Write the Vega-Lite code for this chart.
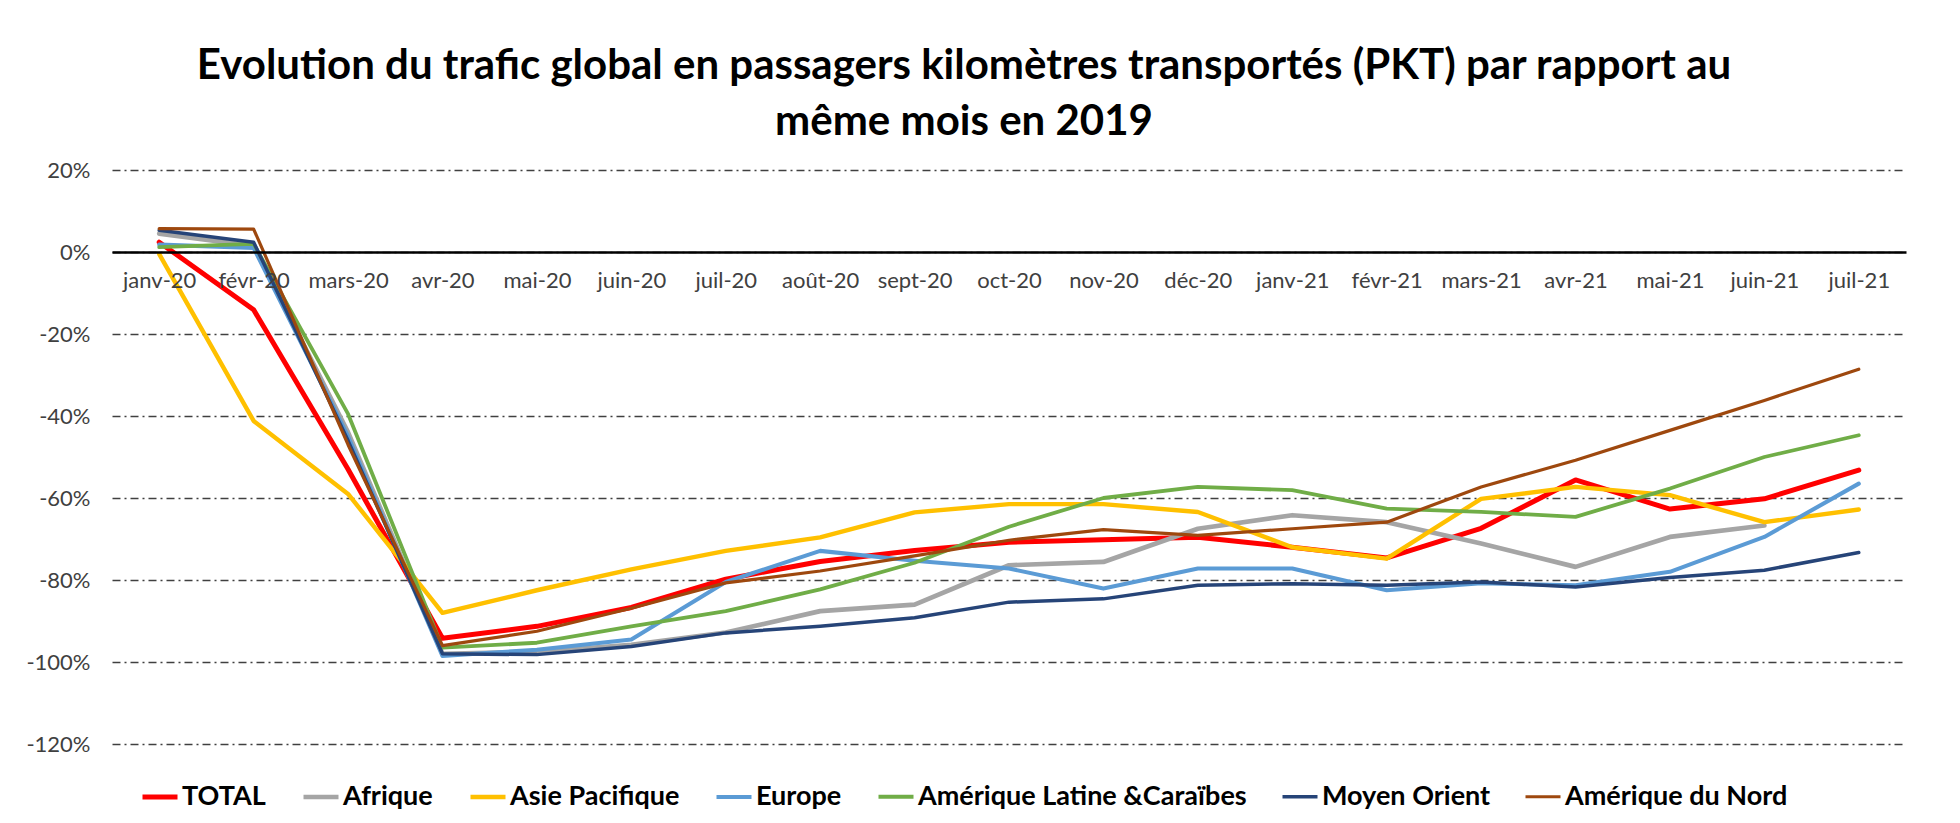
{
  "$schema": "https://vega.github.io/schema/vega-lite/v6.json",
  "width": 1794,
  "height": 574,
  "autosize": {"type": "none"},
  "padding": {"left": 112, "top": 170, "right": 54, "bottom": 79},
  "background": "white",
  "title": {
    "text": ["Evolution du trafic global en passagers kilomètres transportés (PKT) par rapport au", "même mois en 2019"],
    "font": "Lato",
    "fontSize": 42,
    "fontWeight": "bold",
    "color": "#000000",
    "anchor": "middle",
    "dx": -45,
    "lineHeight": 56,
    "offset": 15
  },
  "data": {
    "values": [
      {"m": "janv-20", "s": "TOTAL", "v": 2.4}, {"m": "févr-20", "s": "TOTAL", "v": -14.1}, {"m": "mars-20", "s": "TOTAL", "v": -53}, {"m": "avr-20", "s": "TOTAL", "v": -94.2}, {"m": "mai-20", "s": "TOTAL", "v": -91.3}, {"m": "juin-20", "s": "TOTAL", "v": -86.7}, {"m": "juil-20", "s": "TOTAL", "v": -79.8}, {"m": "août-20", "s": "TOTAL", "v": -75.5}, {"m": "sept-20", "s": "TOTAL", "v": -72.8}, {"m": "oct-20", "s": "TOTAL", "v": -70.8}, {"m": "nov-20", "s": "TOTAL", "v": -70.2}, {"m": "déc-20", "s": "TOTAL", "v": -69.6}, {"m": "janv-21", "s": "TOTAL", "v": -72}, {"m": "févr-21", "s": "TOTAL", "v": -74.6}, {"m": "mars-21", "s": "TOTAL", "v": -67.4}, {"m": "avr-21", "s": "TOTAL", "v": -55.6}, {"m": "mai-21", "s": "TOTAL", "v": -62.7}, {"m": "juin-21", "s": "TOTAL", "v": -60.2}, {"m": "juil-21", "s": "TOTAL", "v": -53.2},

      {"m": "janv-20", "s": "Afrique", "v": 4.5}, {"m": "févr-20", "s": "Afrique", "v": 1.5}, {"m": "mars-20", "s": "Afrique", "v": -44}, {"m": "avr-20", "s": "Afrique", "v": -98}, {"m": "mai-20", "s": "Afrique", "v": -97.5}, {"m": "juin-20", "s": "Afrique", "v": -95.8}, {"m": "juil-20", "s": "Afrique", "v": -92.8}, {"m": "août-20", "s": "Afrique", "v": -87.6}, {"m": "sept-20", "s": "Afrique", "v": -86}, {"m": "oct-20", "s": "Afrique", "v": -76.4}, {"m": "nov-20", "s": "Afrique", "v": -75.6}, {"m": "déc-20", "s": "Afrique", "v": -67.5}, {"m": "janv-21", "s": "Afrique", "v": -64.2}, {"m": "févr-21", "s": "Afrique", "v": -65.9}, {"m": "mars-21", "s": "Afrique", "v": -71.1}, {"m": "avr-21", "s": "Afrique", "v": -76.8}, {"m": "mai-21", "s": "Afrique", "v": -69.5}, {"m": "juin-21", "s": "Afrique", "v": -66.7},

      {"m": "janv-20", "s": "Asie Pacifique", "v": -0.5}, {"m": "févr-20", "s": "Asie Pacifique", "v": -41.2}, {"m": "mars-20", "s": "Asie Pacifique", "v": -59}, {"m": "avr-20", "s": "Asie Pacifique", "v": -88}, {"m": "mai-20", "s": "Asie Pacifique", "v": -82.5}, {"m": "juin-20", "s": "Asie Pacifique", "v": -77.4}, {"m": "juil-20", "s": "Asie Pacifique", "v": -72.9}, {"m": "août-20", "s": "Asie Pacifique", "v": -69.6}, {"m": "sept-20", "s": "Asie Pacifique", "v": -63.5}, {"m": "oct-20", "s": "Asie Pacifique", "v": -61.5}, {"m": "nov-20", "s": "Asie Pacifique", "v": -61.5}, {"m": "déc-20", "s": "Asie Pacifique", "v": -63.4}, {"m": "janv-21", "s": "Asie Pacifique", "v": -72}, {"m": "févr-21", "s": "Asie Pacifique", "v": -74.8}, {"m": "mars-21", "s": "Asie Pacifique", "v": -60.2}, {"m": "avr-21", "s": "Asie Pacifique", "v": -57.3}, {"m": "mai-21", "s": "Asie Pacifique", "v": -59.3}, {"m": "juin-21", "s": "Asie Pacifique", "v": -65.9}, {"m": "juil-21", "s": "Asie Pacifique", "v": -62.8},

      {"m": "janv-20", "s": "Europe", "v": 1.8}, {"m": "févr-20", "s": "Europe", "v": 1.0}, {"m": "mars-20", "s": "Europe", "v": -45}, {"m": "avr-20", "s": "Europe", "v": -98.5}, {"m": "mai-20", "s": "Europe", "v": -97}, {"m": "juin-20", "s": "Europe", "v": -94.5}, {"m": "juil-20", "s": "Europe", "v": -80.5}, {"m": "août-20", "s": "Europe", "v": -72.9}, {"m": "sept-20", "s": "Europe", "v": -75.3}, {"m": "oct-20", "s": "Europe", "v": -77.2}, {"m": "nov-20", "s": "Europe", "v": -82.1}, {"m": "déc-20", "s": "Europe", "v": -77.2}, {"m": "janv-21", "s": "Europe", "v": -77.2}, {"m": "févr-21", "s": "Europe", "v": -82.5}, {"m": "mars-21", "s": "Europe", "v": -80.8}, {"m": "avr-21", "s": "Europe", "v": -81.3}, {"m": "mai-21", "s": "Europe", "v": -78}, {"m": "juin-21", "s": "Europe", "v": -69.5}, {"m": "juil-21", "s": "Europe", "v": -56.5},

      {"m": "janv-20", "s": "Amérique Latine &Caraïbes", "v": 1.2}, {"m": "févr-20", "s": "Amérique Latine &Caraïbes", "v": 2.0}, {"m": "mars-20", "s": "Amérique Latine &Caraïbes", "v": -39.5}, {"m": "avr-20", "s": "Amérique Latine &Caraïbes", "v": -96.5}, {"m": "mai-20", "s": "Amérique Latine &Caraïbes", "v": -95.3}, {"m": "juin-20", "s": "Amérique Latine &Caraïbes", "v": -91.3}, {"m": "juil-20", "s": "Amérique Latine &Caraïbes", "v": -87.6}, {"m": "août-20", "s": "Amérique Latine &Caraïbes", "v": -82.3}, {"m": "sept-20", "s": "Amérique Latine &Caraïbes", "v": -75.8}, {"m": "oct-20", "s": "Amérique Latine &Caraïbes", "v": -67}, {"m": "nov-20", "s": "Amérique Latine &Caraïbes", "v": -60}, {"m": "déc-20", "s": "Amérique Latine &Caraïbes", "v": -57.3}, {"m": "janv-21", "s": "Amérique Latine &Caraïbes", "v": -58.1}, {"m": "févr-21", "s": "Amérique Latine &Caraïbes", "v": -62.6}, {"m": "mars-21", "s": "Amérique Latine &Caraïbes", "v": -63.4}, {"m": "avr-21", "s": "Amérique Latine &Caraïbes", "v": -64.6}, {"m": "mai-21", "s": "Amérique Latine &Caraïbes", "v": -57.7}, {"m": "juin-21", "s": "Amérique Latine &Caraïbes", "v": -50}, {"m": "juil-21", "s": "Amérique Latine &Caraïbes", "v": -44.7},

      {"m": "janv-20", "s": "Moyen Orient", "v": 5.3}, {"m": "févr-20", "s": "Moyen Orient", "v": 2.4}, {"m": "mars-20", "s": "Moyen Orient", "v": -46}, {"m": "avr-20", "s": "Moyen Orient", "v": -98}, {"m": "mai-20", "s": "Moyen Orient", "v": -98.2}, {"m": "juin-20", "s": "Moyen Orient", "v": -96.2}, {"m": "juil-20", "s": "Moyen Orient", "v": -92.9}, {"m": "août-20", "s": "Moyen Orient", "v": -91.3}, {"m": "sept-20", "s": "Moyen Orient", "v": -89.2}, {"m": "oct-20", "s": "Moyen Orient", "v": -85.4}, {"m": "nov-20", "s": "Moyen Orient", "v": -84.6}, {"m": "déc-20", "s": "Moyen Orient", "v": -81.3}, {"m": "janv-21", "s": "Moyen Orient", "v": -80.9}, {"m": "févr-21", "s": "Moyen Orient", "v": -81.3}, {"m": "mars-21", "s": "Moyen Orient", "v": -80.5}, {"m": "avr-21", "s": "Moyen Orient", "v": -81.7}, {"m": "mai-21", "s": "Moyen Orient", "v": -79.4}, {"m": "juin-21", "s": "Moyen Orient", "v": -77.6}, {"m": "juil-21", "s": "Moyen Orient", "v": -73.3},

      {"m": "janv-20", "s": "Amérique du Nord", "v": 5.7}, {"m": "févr-20", "s": "Amérique du Nord", "v": 5.6}, {"m": "mars-20", "s": "Amérique du Nord", "v": -47}, {"m": "avr-20", "s": "Amérique du Nord", "v": -96}, {"m": "mai-20", "s": "Amérique du Nord", "v": -92.5}, {"m": "juin-20", "s": "Amérique du Nord", "v": -86.9}, {"m": "juil-20", "s": "Amérique du Nord", "v": -80.7}, {"m": "août-20", "s": "Amérique du Nord", "v": -77.8}, {"m": "sept-20", "s": "Amérique du Nord", "v": -74.1}, {"m": "oct-20", "s": "Amérique du Nord", "v": -70.3}, {"m": "nov-20", "s": "Amérique du Nord", "v": -67.7}, {"m": "déc-20", "s": "Amérique du Nord", "v": -69.1}, {"m": "janv-21", "s": "Amérique du Nord", "v": -67.5}, {"m": "févr-21", "s": "Amérique du Nord", "v": -65.9}, {"m": "mars-21", "s": "Amérique du Nord", "v": -57.3}, {"m": "avr-21", "s": "Amérique du Nord", "v": -50.8}, {"m": "mai-21", "s": "Amérique du Nord", "v": -43.5}, {"m": "juin-21", "s": "Amérique du Nord", "v": -36.2}, {"m": "juil-21", "s": "Amérique du Nord", "v": -28.6}
    ]
  },
  "mark": {"type": "line", "strokeJoin": "round", "strokeCap": "round"},
  "encoding": {
    "x": {
      "field": "m",
      "type": "ordinal",
      "sort": ["janv-20", "févr-20", "mars-20", "avr-20", "mai-20", "juin-20", "juil-20", "août-20", "sept-20", "oct-20", "nov-20", "déc-20", "janv-21", "févr-21", "mars-21", "avr-21", "mai-21", "juin-21", "juil-21"],
      "scale": {"type": "point", "padding": 0.5},
      "axis": {
        "title": null,
        "orient": "bottom",
        "offset": -492,
        "zindex": 1,
        "domain": true,
        "domainColor": "#000000",
        "domainWidth": 2.5,
        "ticks": false,
        "grid": false,
        "labelAngle": 0,
        "labelPadding": 18,
        "labelFont": "Lato",
        "labelFontSize": 22,
        "labelColor": "#404040"
      }
    },
    "y": {
      "field": "v",
      "type": "quantitative",
      "scale": {"domain": [-120, 20], "nice": false, "zero": false},
      "axis": {
        "title": null,
        "values": [-120, -100, -80, -60, -40, -20, 0, 20],
        "labelExpr": "(datum.value < 0 ? '-' : '') + abs(datum.value) + '%'",
        "domain": false,
        "ticks": false,
        "labelPadding": 22,
        "labelFont": "Lato",
        "labelFontSize": 22,
        "labelColor": "#404040",
        "grid": true,
        "gridColor": "#404040",
        "gridWidth": 1.5,
        "gridDash": [8, 4, 2, 4]
      }
    },
    "color": {
      "field": "s",
      "type": "nominal",
      "scale": {
        "domain": ["TOTAL", "Afrique", "Asie Pacifique", "Europe", "Amérique Latine &Caraïbes", "Moyen Orient", "Amérique du Nord"],
        "range": ["#FF0000", "#A5A5A5", "#FFC000", "#5B9BD5", "#70AD47", "#264478", "#9E480E"]
      },
      "legend": {
        "title": null,
        "orient": "none",
        "legendX": 28,
        "legendY": 607,
        "direction": "horizontal",
        "columns": 7,
        "columnPadding": 28,
        "symbolType": "stroke",
        "symbolSize": 1225,
        "labelFont": "Lato",
        "labelFontSize": 27,
        "labelFontWeight": "bold",
        "labelColor": "#000000",
        "labelOffset": 2,
        "labelLimit": 400
      }
    },
    "strokeWidth": {
      "field": "s",
      "type": "nominal",
      "scale": {
        "domain": ["TOTAL", "Afrique", "Asie Pacifique", "Europe", "Amérique Latine &Caraïbes", "Moyen Orient", "Amérique du Nord"],
        "range": [5, 3.2, 3.2, 3.2, 3.2, 3.2, 3.2]
      },
      "legend": {
        "title": null,
        "orient": "none",
        "legendX": 28,
        "legendY": 607,
        "direction": "horizontal",
        "columns": 7,
        "columnPadding": 28,
        "symbolType": "stroke",
        "symbolSize": 1225,
        "labelFont": "Lato",
        "labelFontSize": 27,
        "labelFontWeight": "bold",
        "labelColor": "#000000",
        "labelOffset": 2,
        "labelLimit": 400
      }
    },
    "order": {"field": "s", "sort": "descending"}
  },
  "config": {"view": {"stroke": null}}
}
